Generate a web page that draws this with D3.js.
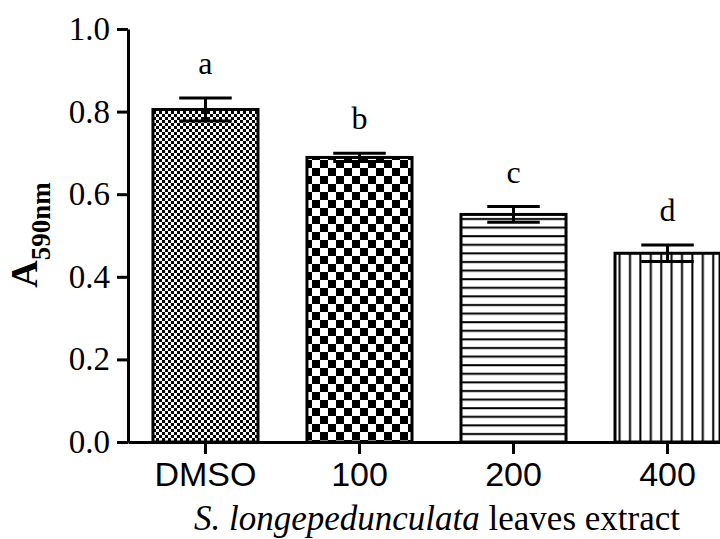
<!DOCTYPE html>
<html><head><meta charset="utf-8">
<script src="https://cdn.jsdelivr.net/npm/d3@7"></script>
<style>
html,body{margin:0;padding:0;background:#fff;}
svg{display:block;}
</style></head>
<body>
<svg id="chart" width="720" height="539"></svg>
<script>
const categories = ["DMSO", "100", "200", "400"];
const means = [0.805, 0.689, 0.551, 0.457];
const errors = [0.028, 0.010, 0.019, 0.020];
const letters = ["a", "b", "c", "d"];
const yTicks = [0.0, 0.2, 0.4, 0.6, 0.8, 1.0];
const patternIds = ["fineCheck", "coarseCheck", "hLines", "vLines"];

const svg = d3.select("#chart");
const x = d3.scaleBand().domain(categories).range([128, 745]).paddingInner(0.318).paddingOuter(0.162);
const y = d3.scaleLinear().domain([0, 1]).range([442, 29]);

const defs = svg.append("defs");
// fine checker
let p = defs.append("pattern").attr("id","fineCheck").attr("patternUnits","userSpaceOnUse").attr("width",6).attr("height",6);
p.append("rect").attr("width",6).attr("height",6).attr("fill","#fff");
p.append("rect").attr("x",0).attr("y",0).attr("width",3).attr("height",3).attr("fill","#000");
p.append("rect").attr("x",3).attr("y",3).attr("width",3).attr("height",3).attr("fill","#000");
// coarse checker
p = defs.append("pattern").attr("id","coarseCheck").attr("patternUnits","userSpaceOnUse").attr("width",16).attr("height",16);
p.append("rect").attr("width",16).attr("height",16).attr("fill","#fff");
p.append("rect").attr("x",0).attr("y",0).attr("width",8).attr("height",8).attr("fill","#000");
p.append("rect").attr("x",8).attr("y",8).attr("width",8).attr("height",8).attr("fill","#000");
// horizontal lines
p = defs.append("pattern").attr("id","hLines").attr("patternUnits","userSpaceOnUse").attr("width",10).attr("height",8.6);
p.append("rect").attr("width",10).attr("height",8.6).attr("fill","#fff");
p.append("rect").attr("x",0).attr("y",3).attr("width",10).attr("height",2).attr("fill","#000");
// vertical lines
p = defs.append("pattern").attr("id","vLines").attr("patternUnits","userSpaceOnUse").attr("width",10.4).attr("height",10);
p.append("rect").attr("width",10.4).attr("height",10).attr("fill","#fff");
p.append("rect").attr("x",5).attr("y",0).attr("width",2).attr("height",10).attr("fill","#000");

// bars
svg.append("g").selectAll("rect").data(categories).join("rect")
  .attr("x", d => x(d))
  .attr("y", (d,i) => y(means[i]))
  .attr("width", x.bandwidth())
  .attr("height", (d,i) => y(0) - y(means[i]))
  .attr("fill", (d,i) => `url(#${patternIds[i]})`)
  .attr("stroke", "#000").attr("stroke-width", 3);

// error bars
const eb = svg.append("g").attr("stroke","#000").attr("stroke-width",3);
const capW = x.bandwidth()*0.5;
categories.forEach((c,i) => {
  const cx = x(c) + x.bandwidth()/2;
  eb.append("line").attr("x1",cx).attr("x2",cx).attr("y1",y(means[i]-errors[i])).attr("y2",y(means[i]+errors[i]));
  eb.append("line").attr("x1",cx-capW/2).attr("x2",cx+capW/2).attr("y1",y(means[i]+errors[i])).attr("y2",y(means[i]+errors[i]));
  eb.append("line").attr("x1",cx-capW/2).attr("x2",cx+capW/2).attr("y1",y(means[i]-errors[i])).attr("y2",y(means[i]-errors[i]));
});

// letters
svg.append("g").selectAll("text").data(letters).join("text")
  .attr("x", (d,i) => x(categories[i]) + x.bandwidth()/2)
  .attr("y", (d,i) => y(means[i]+errors[i]) - 24)
  .attr("text-anchor","middle")
  .attr("font-family","'Liberation Serif', 'Times New Roman', serif")
  .attr("font-size",32)
  .attr("fill","#000")
  .text(d => d);

// y axis
const yAxis = svg.append("g").attr("transform","translate(128,0)")
  .call(d3.axisLeft(y).tickValues(yTicks).tickFormat(d3.format(".1f")).tickSize(11).tickSizeOuter(0).tickPadding(7));
yAxis.selectAll("path,line").attr("stroke","#000").attr("stroke-width",3);
yAxis.selectAll("text").attr("font-family","'Liberation Serif', 'Times New Roman', serif").attr("font-size",33).attr("fill","#000");

// x axis
const xAxis = svg.append("g").attr("transform","translate(0,442)")
  .call(d3.axisBottom(x).tickSize(12).tickSizeOuter(0).tickPadding(8));
xAxis.selectAll("path,line").attr("stroke","#000").attr("stroke-width",3);
xAxis.selectAll("text").attr("font-family","'Liberation Sans', Arial, sans-serif").attr("font-size",34).attr("fill","#000");

// x label
const xl = svg.append("text").attr("x",437).attr("y",530).attr("text-anchor","middle")
  .attr("font-family","'Liberation Serif', 'Times New Roman', serif").attr("font-size",35).attr("fill","#000");
xl.append("tspan").attr("font-style","italic").text("S. longepedunculata");
xl.append("tspan").text(" leaves extract");

// y label
const yl = svg.append("text").attr("transform","translate(37,235) rotate(-90)").attr("text-anchor","middle")
  .attr("font-family","'Liberation Serif', 'Times New Roman', serif").attr("font-weight","bold").attr("fill","#000");
yl.append("tspan").attr("font-size",38).text("A");
yl.append("tspan").attr("font-size",27).attr("dy",13).text("590nm");
</script>
</body></html>
